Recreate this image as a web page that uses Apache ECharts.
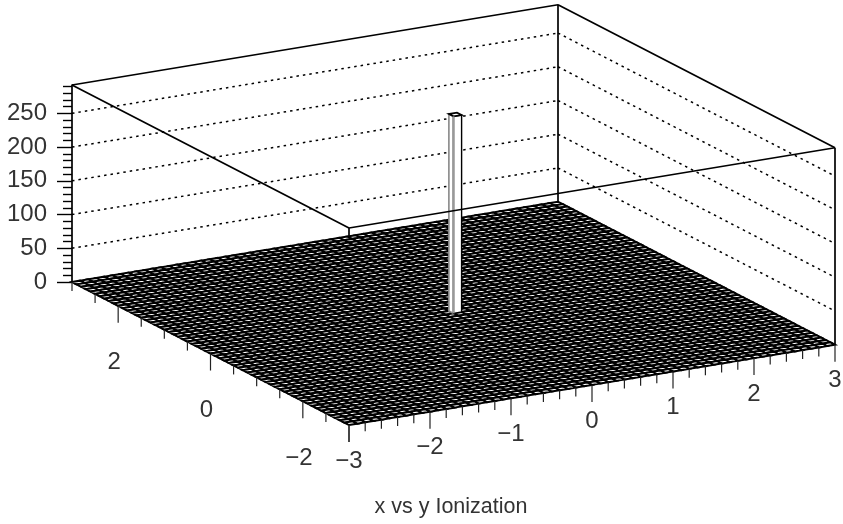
<!DOCTYPE html>
<html>
<head>
<meta charset="utf-8">
<style>html,body{margin:0;padding:0;background:#fff}#c{width:843px;height:524px}</style>
<script src="https://cdn.jsdelivr.net/npm/echarts@6/dist/echarts.min.js"></script>
</head>
<body>
<div id="c"></div>
<script>
// ---- data ----
const xBinEdges = [-3.0,-2.9,-2.8,-2.7,-2.6,-2.5,-2.4,-2.3,-2.2,-2.1,-2.0,-1.9,-1.8,-1.7,-1.6,-1.5,-1.4,-1.3,-1.2,-1.1,-1.0,-0.9,-0.8,-0.7,-0.6,-0.5,-0.4,-0.3,-0.2,-0.1,0.0,0.1,0.2,0.3,0.4,0.5,0.6,0.7,0.8,0.9,1.0,1.1,1.2,1.3,1.4,1.5,1.6,1.7,1.8,1.9,2.0,2.1,2.2,2.3,2.4,2.5,2.6,2.7,2.8,2.9,3.0];
const yBinEdges = xBinEdges;
// Non-empty bins: [x low edge, y low edge, count]. All other bins hold 0.
const filledBins = [[0.0, 0.0, 292]];
const zTickLabels = [0, 50, 100, 150, 200, 250];
const zTop = 292;
const xTickLabels = [-3, -2, -1, 0, 1, 2, 3];
const yTickLabels = [-2, 0, 2];
const xMinorTicks = [-3,-2.8,-2.6,-2.4,-2.2,-2,-1.8,-1.6,-1.4,-1.2,-1,-0.8,-0.6,-0.4,-0.2,0,0.2,0.4,0.6,0.8,1,1.2,1.4,1.6,1.8,2,2.2,2.4,2.6,2.8,3];
const yMinorTicks = [-3,-2.5,-2,-1.5,-1,-0.5,0,0.5,1,1.5,2,2.5,3];
const titleText = 'x vs y Ionization';

// ---- oblique projection: histogram (x, y, z) -> the grid's (u, w) axes ----
const shareX = 486 / 763, shareY = 277 / 763;
const riseX = 119, riseY = 212;
function project(x, y, z) {
  return [
    (x + 3) / 6 * shareX + (3 - y) / 6 * shareY,
    z + (x + 3) / 6 * riseX + (y - 3) / 6 * riseY
  ];
}

// ---- derived tables ----
const cells = [];
for (let i = xBinEdges.length - 2; i >= 0; i--) {
  for (let j = yBinEdges.length - 2; j >= 0; j--) {
    cells.push([xBinEdges[i], xBinEdges[i + 1], yBinEdges[j], yBinEdges[j + 1]]);
  }
}
const columns = filledBins.map(function (b) {
  const ix = xBinEdges.indexOf(b[0]), iy = yBinEdges.indexOf(b[1]);
  return [xBinEdges[ix], xBinEdges[ix + 1], yBinEdges[iy], yBinEdges[iy + 1], b[2]];
});
const wallLevels = zTickLabels.filter(function (z) { return z > 0; });

function pt(api, x, y, z) { return api.coord(project(x, y, z)); }
function seg(a, b, style) {
  return { type: 'line', silent: true,
    shape: { x1: a[0], y1: a[1], x2: b[0], y2: b[1] },
    style: Object.assign({ stroke: '#000', fill: null }, style) };
}
const FONT = '"Liberation Sans", sans-serif';
const solid = { lineWidth: 1.7 };
const dotted = { lineWidth: 1.5, lineDash: [2.5, 4] };

const option = {
  animation: false,
  backgroundColor: '#fff',
  title: {
    text: titleText, left: 446, top: 491, textAlign: 'center',
    textStyle: { fontFamily: FONT, fontSize: 21.5, fontWeight: 'normal', color: '#333' }
  },
  grid: { left: 72, right: 8, top: 85, height: 197, containLabel: false, outerBoundsMode: 'none' },
  xAxis: { type: 'value', min: 0, max: 1, show: false },
  yAxis: {
    type: 'value', min: 0, max: zTop, interval: 50,
    splitLine: { show: false },
    axisLine: { show: true, onZero: false, lineStyle: { color: '#000', width: 1.7 } },
    axisTick: { show: true, length: 15, customValues: zTickLabels, lineStyle: { color: '#000', width: 1.4 } },
    minorTick: { show: true, splitNumber: 5, length: 9, lineStyle: { color: '#000', width: 1.4 } },
    axisLabel: { margin: 25, showMaxLabel: false, fontFamily: FONT, fontSize: 24, color: '#333' }
  },
  series: [
    { // dotted level lines on the back walls
      type: 'custom', coordinateSystem: 'cartesian2d', z: 1,
      data: wallLevels.map(function (z) { return [0, z]; }),
      renderItem: function (params, api) {
        const z = wallLevels[params.dataIndex];
        return { type: 'group', children: [
          seg(pt(api, -3, 3, z), pt(api, 3, 3, z), dotted),
          seg(pt(api, 3, 3, z), pt(api, 3, -3, z), dotted)
        ] };
      }
    },
    { // back frame
      type: 'custom', coordinateSystem: 'cartesian2d', z: 1,
      data: [[0, 0]],
      renderItem: function (params, api) {
        return { type: 'group', children: [
          seg(pt(api, -3, 3, zTop), pt(api, 3, 3, zTop), solid),
          seg(pt(api, 3, 3, zTop), pt(api, 3, -3, zTop), solid),
          seg(pt(api, 3, 3, zTop), pt(api, 3, 3, 0), solid),
          seg(pt(api, 3, -3, zTop), pt(api, 3, -3, 0), solid),
          seg(pt(api, -3, -3, zTop), pt(api, -3, -3, 0), solid)
        ] };
      }
    },
    { // histogram floor: one polygon per bin
      type: 'custom', coordinateSystem: 'cartesian2d', z: 2,
      data: cells.map(function (c) { return [0, 0]; }),
      renderItem: function (params, api) {
        const c = cells[params.dataIndex];
        return { type: 'polygon', silent: true,
          shape: { points: [pt(api, c[0], c[2], 0), pt(api, c[1], c[2], 0), pt(api, c[1], c[3], 0), pt(api, c[0], c[3], 0)] },
          style: { fill: '#fff', stroke: '#000', lineWidth: 2 } };
      }
    },
    { // filled bins as lego columns
      type: 'custom', coordinateSystem: 'cartesian2d', z: 3,
      data: columns.map(function (c) { return [0, c[4]]; }),
      renderItem: function (params, api) {
        const c = columns[params.dataIndex], h = c[4];
        const f0 = pt(api, c[0], c[2], 0), r0 = pt(api, c[1], c[2], 0), l0 = pt(api, c[0], c[3], 0);
        const f1 = pt(api, c[0], c[2], h), r1 = pt(api, c[1], c[2], h), l1 = pt(api, c[0], c[3], h), b1 = pt(api, c[1], c[3], h);
        return { type: 'group', children: [
          { type: 'polygon', silent: true, shape: { points: [l0, f0, f1, l1] }, style: { fill: '#fff', stroke: '#888', lineWidth: 1.6 } },
          { type: 'polygon', silent: true, shape: { points: [f0, r0, r1, f1] }, style: { fill: '#fff', stroke: '#000', lineWidth: 1.4 } },
          { type: 'polygon', silent: true, shape: { points: [l1, f1, r1, b1] }, style: { fill: '#fff', stroke: '#000', lineWidth: 1.8 } },
          seg(f0, f1, { stroke: '#999', lineWidth: 2 })
        ] };
      }
    },
    { // front frame
      type: 'custom', coordinateSystem: 'cartesian2d', z: 4,
      data: [[0, 0]],
      renderItem: function (params, api) {
        return { type: 'group', children: [
          seg(pt(api, -3, 3, zTop), pt(api, -3, -3, zTop), solid),
          seg(pt(api, -3, -3, zTop), pt(api, 3, -3, zTop), solid)
        ] };
      }
    },
    { // x ticks along the front-right floor edge
      type: 'custom', coordinateSystem: 'cartesian2d', z: 4,
      data: xMinorTicks.map(function (v) { return [0, v]; }),
      renderItem: function (params, api) {
        const v = xMinorTicks[params.dataIndex], p = pt(api, v, -3, 0);
        const len = xTickLabels.indexOf(v) >= 0 ? 17 : 9;
        return seg(p, [p[0], p[1] + len], { lineWidth: 1.2, stroke: '#222' });
      }
    },
    { // y ticks along the front-left floor edge
      type: 'custom', coordinateSystem: 'cartesian2d', z: 4,
      data: yMinorTicks.map(function (v) { return [0, v]; }),
      renderItem: function (params, api) {
        const v = yMinorTicks[params.dataIndex], p = pt(api, -3, v, 0);
        const len = yTickLabels.indexOf(v) >= 0 || v === -3 ? 17 : 9;
        return seg(p, [p[0], p[1] + len], { lineWidth: 1.2, stroke: '#222' });
      }
    },
    { // x labels
      type: 'custom', coordinateSystem: 'cartesian2d', z: 4,
      data: xTickLabels.map(function (v) { return [0, v]; }),
      renderItem: function (params, api) {
        const v = xTickLabels[params.dataIndex], p = pt(api, v, -3, 0);
        return { type: 'text', silent: true, x: p[0], y: p[1] + 36,
          style: { text: String(v).replace('-', '\u2212'), textAlign: 'center', textVerticalAlign: 'middle',
            fontFamily: FONT, fontSize: 24, fill: '#333' } };
      }
    },
    { // y labels
      type: 'custom', coordinateSystem: 'cartesian2d', z: 4,
      data: yTickLabels.map(function (v) { return [0, v]; }),
      renderItem: function (params, api) {
        const v = yTickLabels[params.dataIndex], p = pt(api, -3, v, 0);
        return { type: 'text', silent: true, x: p[0] - 4, y: p[1] + 57,
          style: { text: String(v).replace('-', '\u2212'), textAlign: 'center', textVerticalAlign: 'middle',
            fontFamily: FONT, fontSize: 24, fill: '#333' } };
      }
    }
  ]
};
const chart = echarts.init(document.getElementById('c'), null, { renderer: 'canvas' });
chart.setOption(option);
</script>
</body>
</html>
